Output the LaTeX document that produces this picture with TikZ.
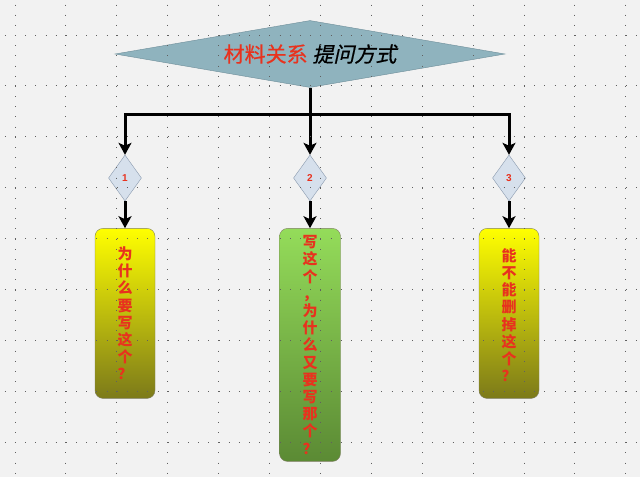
\documentclass[tikz,border=0pt]{standalone}
\usepackage{fontspec}
\setmainfont{Liberation Sans}
\newfontfamily\cjk{Noto Sans CJK SC}
\newfontfamily\cjkmid[FakeBold=0.6]{Noto Sans CJK SC}
\newfontfamily\cjkslant[FakeBold=0.6,FakeSlant=0.22]{Noto Sans CJK SC}
\usetikzlibrary{positioning,shapes.geometric,arrows.meta}

\definecolor{topicfill}{HTML}{8FB3BE}
\definecolor{topicline}{HTML}{6C8C98}
\definecolor{askred}{HTML}{E8321E}
\definecolor{qfill}{HTML}{D6E0EC}
\definecolor{qline}{HTML}{8A9AAE}
\definecolor{yellowtop}{HTML}{FFFF00}
\definecolor{yellowmid}{HTML}{E6E204}
\definecolor{yellowbot}{HTML}{7C7A1A}
\definecolor{greentop}{HTML}{94DC5A}
\definecolor{greenmid}{HTML}{7AB848}
\definecolor{greenbot}{HTML}{5B8A34}
\definecolor{boxline}{HTML}{7E7E62}
\definecolor{gridbg}{HTML}{F2F2F2}
\definecolor{griddot}{HTML}{606060}

\tikzset{
  topic/.style={diamond, aspect=5.8, inner sep=0pt, minimum width=390pt,
    minimum height=67pt, draw=topicline, fill=topicfill,
    font=\cjkmid\fontsize{21}{21}\selectfont},
  numdiamond/.style={diamond, aspect=0.72, inner sep=0pt, minimum width=33pt,
    minimum height=46pt, draw=qline, fill=qfill, text=askred,
    font=\bfseries\fontsize{10}{10}\selectfont},
  askbox/.style={rounded corners=8pt, draw=boxline, minimum width=60pt,
    inner sep=0pt, align=center, text=askred,
    font=\cjk\bfseries\fontsize{15}{17.2}\selectfont},
  yellowbox/.style={askbox, minimum height=170pt, top color=yellowtop,
    middle color=yellowmid, bottom color=yellowbot},
  greenbox/.style={askbox, minimum width=61pt, minimum height=233pt,
    top color=greentop, middle color=greenmid, bottom color=greenbot},
  link/.style={line width=3pt, black},
  linkarrow/.style={link, -{Stealth[length=12pt,width=13pt,inset=3pt]}},
  griddots/.style={griddot, line width=1pt, dash pattern=on 1pt off 9.18pt}
}

\begin{document}
\begin{tikzpicture}[x=1pt,y=-1pt]
 \fill[gridbg] (0,0) rectangle (640,477);
 \useasboundingbox (0,0) rectangle (640,477);

 \node[topic] (topic) at (310,54) {\textcolor{askred}{材料关系} {\cjkslant 提问方式}};

 \node[numdiamond] (q1) at (125,178) {1};
 \node[numdiamond] (q2) at (310,178) {2};
 \node[numdiamond] (q3) at (509,178) {3};

 \node[yellowbox, below=27pt of q1] (a1) {为\\什\\么\\要\\写\\这\\个\\？};
 \node[greenbox, below=27pt of q2] (a2) {写\\这\\个\\，\\为\\什\\么\\又\\要\\写\\那\\个\\？};
 \node[yellowbox, below=27pt of q3] (a3) {\mbox{}\\[-1pt]能\\不\\能\\删\\掉\\这\\个\\？};

 \coordinate (hub) at (310,114);
 \draw[link] (topic.south) -- (hub);
 \draw[linkarrow] (hub) -| (q1.north);
 \draw[linkarrow] (hub) -- (q2.north);
 \draw[linkarrow] (hub) -| (q3.north);
 \draw[linkarrow] (q1) -- (a1);
 \draw[linkarrow] (q2) -- (a2);
 \draw[linkarrow] (q3) -- (a3);

 % dotted grid
 \foreach \i in {0,...,12}
  \draw[griddots] (15+50.9*\i,4.5) -- (15+50.9*\i,477);
 \foreach \j in {0,...,8}
  \draw[griddots] (4.8,35+50.9*\j) -- (640,35+50.9*\j);
\end{tikzpicture}
\end{document}
